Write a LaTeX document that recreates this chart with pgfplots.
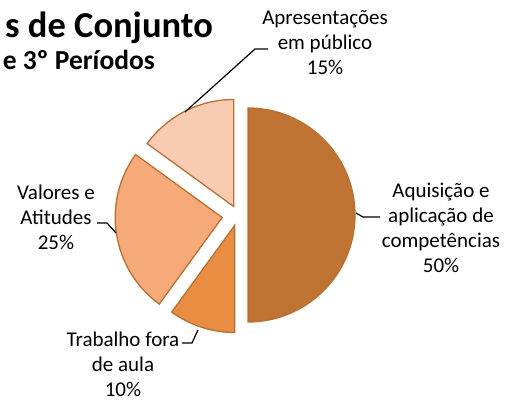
\documentclass[border=0pt]{standalone}
\usepackage{pgfplots}
\pgfplotsset{compat=1.18}
\usepackage{fontspec}
\setmainfont{Carlito}
\definecolor{cA}{RGB}{192,116,52}
\definecolor{cB}{RGB}{233,141,67}
\definecolor{cC}{RGB}{246,170,122}
\definecolor{cD}{RGB}{248,203,178}
\definecolor{edge}{RGB}{184,112,50}
\begin{document}
\begin{tikzpicture}
\begin{axis}[
  width=517pt, height=401pt, scale only axis,
  xmin=0, xmax=517, ymin=0, ymax=401,
  hide axis, clip=false]
% pie: centre (238,186), radius 107; slices 50,10,25,15 % clockwise from top
\filldraw[fill=cA, draw=edge, line width=1.3pt] (axis cs:248,186) -- +(90:107pt) arc[start angle=90, end angle=-90, radius=107pt] -- cycle;
\filldraw[fill=cB, draw=edge, line width=1.3pt] (axis cs:234.6,175.5) -- +(-90:107pt) arc[start angle=-90, end angle=-126, radius=107pt] -- cycle;
\filldraw[fill=cC, draw=edge, line width=1.3pt] (axis cs:222.2,183.5) -- +(-126:107pt) arc[start angle=-126, end angle=-216, radius=107pt] -- cycle;
\filldraw[fill=cD, draw=edge, line width=1.3pt] (axis cs:233.7,194.5) -- +(144:107pt) arc[start angle=144, end angle=90, radius=107pt] -- cycle;
% leader lines
\draw[black, line width=1.2pt] (axis cs:185,289) -- (axis cs:255,352) -- (axis cs:268,352);
\draw[black, line width=1.2pt] (axis cs:97,178) -- (axis cs:107,178) -- (axis cs:116,168);
\draw[black, line width=1.2pt] (axis cs:182,58) -- (axis cs:192,58) -- (axis cs:198,71);
\draw[black, line width=1.2pt] (axis cs:356,188) -- (axis cs:363,184) -- (axis cs:380,184);
% labels
\node[align=center, font=\fontsize{21}{25}\selectfont] at (axis cs:325,358) {Apresentações\\em público\\15\%};
\node[align=center, font=\fontsize{21}{25}\selectfont] at (axis cs:441,173.5) {Aquisição e\\aplicação de\\competências\\50\%};
\node[align=center, font=\fontsize{21}{25}\selectfont] at (axis cs:56,184) {Valores e\\Atitudes\\25\%};
\node[align=center, font=\fontsize{21}{25}\selectfont] at (axis cs:123,37) {Trabalho fora\\de aula\\10\%};
% title
\node[anchor=base east, inner sep=0pt, font=\fontsize{36.5}{40}\selectfont\bfseries] at (axis cs:213,363) {s de Conjunto};
\node[anchor=base east, inner sep=0pt, font=\fontsize{27.5}{30}\selectfont\bfseries] at (axis cs:155,331) {e 3º Períodos};
\end{axis}
\pgfresetboundingbox
\path[use as bounding box] (current axis.south west) rectangle (current axis.north east);
\end{tikzpicture}
\end{document}
